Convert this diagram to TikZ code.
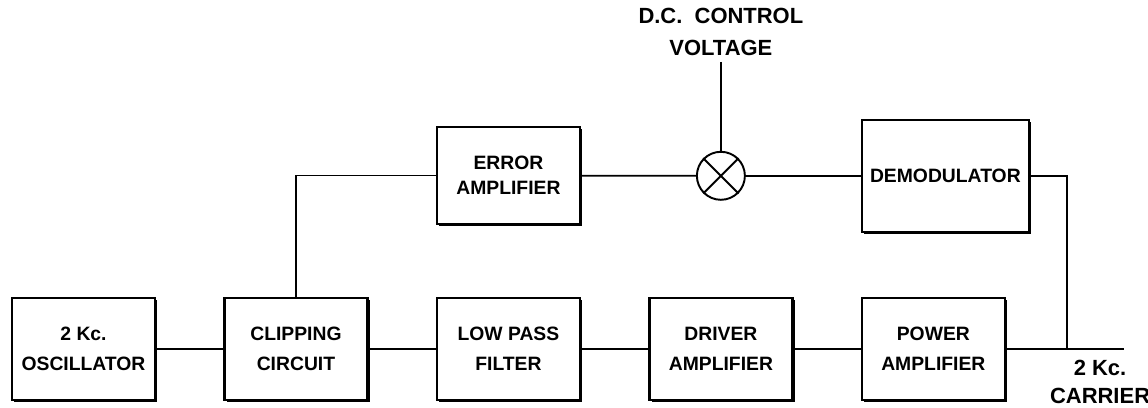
\documentclass[tikz,border=0pt]{standalone}
\usepackage{fontspec}
\setmainfont{Liberation Sans}
\usetikzlibrary{positioning, shadows}

\begin{document}
\begin{tikzpicture}[
    node distance=1.34cm,
    every node/.style={font=\bfseries\fontsize{11}{17}\selectfont},
    block/.style={rectangle, draw, fill=white, line width=1.4pt, minimum width=2.86cm, minimum height=2.04cm, align=center, inner sep=2pt,
        drop shadow={fill=black, opacity=1, shadow xshift=1.2pt, shadow yshift=-1.2pt}},
    mixer/.style={circle, draw, line width=1.1pt, minimum size=0.96cm, inner sep=0pt},
    label/.style={align=center, font=\bfseries\fontsize{12.5}{17}\selectfont},
    wire/.style={line width=1pt}
]
    \useasboundingbox (0,0) rectangle (22.96,8.14);

    % Main forward chain
    \node (osc) [block] at (1.67,1.16) {2 Kc.\\OSCILLATOR};
    \node (clip) [block, right=of osc] {CLIPPING\\CIRCUIT};
    \node (lpf) [block, right=of clip] {LOW PASS\\FILTER};
    \node (drv) [block, right=of lpf] {DRIVER\\AMPLIFIER};
    \node (pwr) [block, right=of drv] {POWER\\AMPLIFIER};

    \draw [wire] (osc) -- (clip);
    \draw [wire] (clip) -- (lpf);
    \draw [wire] (lpf) -- (drv);
    \draw [wire] (drv) -- (pwr);

    % Output
    \coordinate (tap) at ([xshift=1.22cm]pwr.east);
    \coordinate (carry) at ([xshift=2.36cm]pwr.east);
    \node (cartxt) [label, anchor=north, inner sep=0pt, font=\bfseries\fontsize{12.5}{16}\selectfont] at ([xshift=-0.48cm, yshift=-0.22cm]carry) {2 Kc.\\CARRIER};
    \draw [wire] (pwr.east) -- (carry);

    % Feedback loop
    \node (err) [block, minimum height=1.94cm, above=1.43cm of lpf, font=\bfseries\fontsize{11}{14}\selectfont] {ERROR\\AMPLIFIER};
    \node (mix) [mixer, above=1.92cm of drv] {};
    \draw [line width=1.1pt] (mix.north west) -- (mix.south east);
    \draw [line width=1.1pt] (mix.north east) -- (mix.south west);
    \node (dem) [block, minimum width=3.34cm, minimum height=2.24cm, anchor=west] at (pwr.west |- mix) {DEMODULATOR};
    \node (dcv) [label, above=1.78cm of mix, font=\bfseries\fontsize{12.5}{18}\selectfont] {D.C.\ \ CONTROL\\VOLTAGE};

    \draw [wire] (clip.north) |- (err.west);
    \draw [wire] (err) -- (mix);
    \draw [wire] (mix) -- (dem);
    \draw [wire] (dem.east) -| (tap);
    \draw [wire] (dcv) -- (mix);

\end{tikzpicture}
\end{document}
